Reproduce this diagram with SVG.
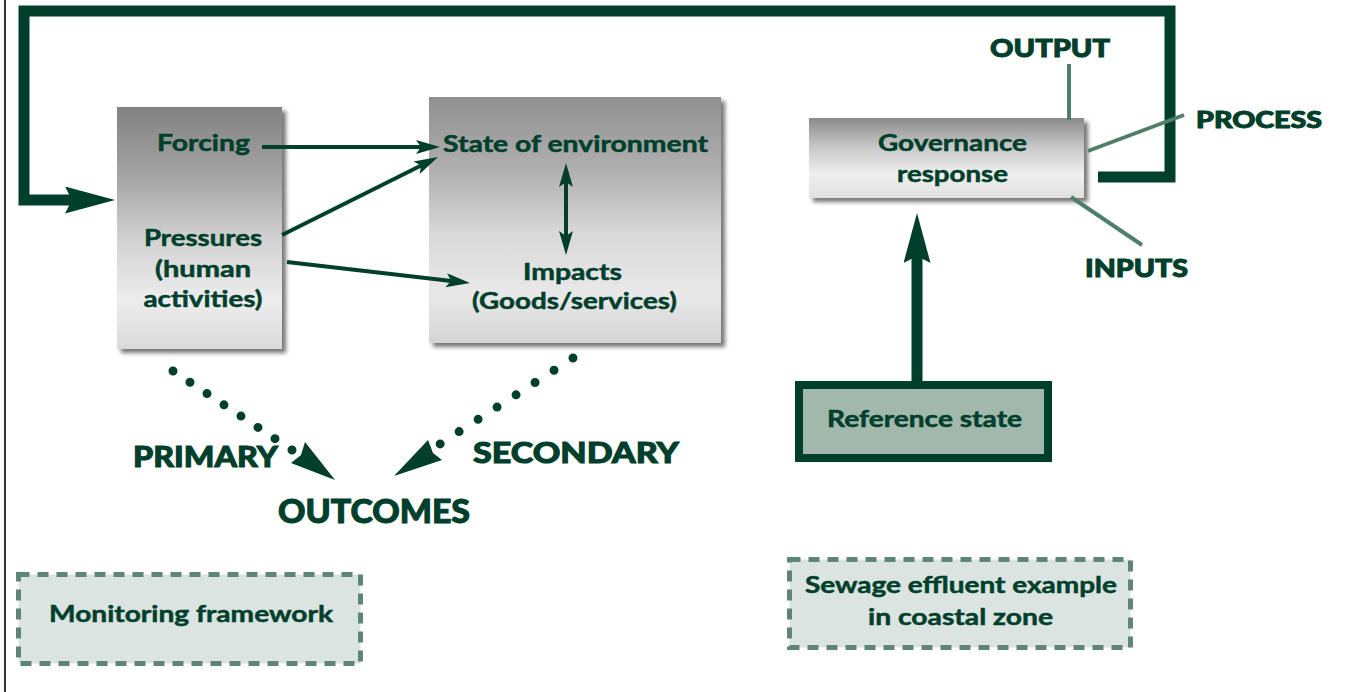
<svg xmlns="http://www.w3.org/2000/svg" width="1356" height="692" viewBox="0 0 1356 692">
<defs>
<style>
.t{font-family:Lato,"Liberation Sans",Arial,sans-serif;font-weight:700;fill:#003f2c;stroke:#003f2c;stroke-width:0.5;text-anchor:middle}
.cap{font-family:Lato,"Liberation Sans",Arial,sans-serif;font-weight:900;fill:#003f2c;stroke:#003f2c;stroke-width:1;text-anchor:middle}
.thin{stroke:#003f2c;stroke-width:4;fill:none}
.thick{stroke:#003f2c;stroke-width:11;fill:none;stroke-linejoin:miter}
.lead{stroke:#4f7f6b;stroke-width:4;fill:none}
.dots{stroke:#003f2c;stroke-width:9;stroke-linecap:round;fill:none}
.dash{fill:#dbe4e0;stroke:#5e8575;stroke-width:5;stroke-dasharray:11 8}
.head{fill:#003f2c}
</style>
<marker id="ah" markerUnits="userSpaceOnUse" markerWidth="26" markerHeight="16" refX="14" refY="7" orient="auto-start-reverse" viewBox="0 0 26 16">
<path d="M0,0 L24,7 L0,14 L5,7 z" fill="#003f2c"/>
</marker>
<marker id="big" markerUnits="userSpaceOnUse" markerWidth="52" markerHeight="28" refX="7" refY="13.5" orient="auto" viewBox="0 0 52 28">
<path d="M0,0 L50,13.5 L0,27 L7,13.5 z" fill="#003f2c"/>
</marker>
<linearGradient id="g1" x1="0" y1="0" x2="0" y2="1">
<stop offset="0" stop-color="#828282"/>
<stop offset="0.3" stop-color="#a6a6a6"/>
<stop offset="0.55" stop-color="#d2d2d2"/>
<stop offset="0.8" stop-color="#ededed"/>
<stop offset="1" stop-color="#dadada"/>
</linearGradient>
<linearGradient id="g2" x1="0" y1="0" x2="0" y2="1">
<stop offset="0" stop-color="#909090"/>
<stop offset="0.3" stop-color="#b0b0b0"/>
<stop offset="0.55" stop-color="#d8d8d8"/>
<stop offset="0.8" stop-color="#e9e9e9"/>
<stop offset="1" stop-color="#d4d4d4"/>
</linearGradient>
<linearGradient id="g3" x1="0" y1="0" x2="0" y2="1">
<stop offset="0" stop-color="#8a8a8a"/>
<stop offset="0.35" stop-color="#c6c6c6"/>
<stop offset="0.7" stop-color="#efefef"/>
<stop offset="1" stop-color="#e0e0e0"/>
</linearGradient>
<filter id="sh" x="-10%" y="-10%" width="130%" height="130%">
<feDropShadow dx="4" dy="4" stdDeviation="2" flood-color="#555" flood-opacity="0.8"/>
</filter>
</defs>
<rect width="1356" height="692" fill="#fff"/>
<line x1="5" y1="0" x2="5" y2="692" stroke="#333" stroke-width="2"/>

<g id="n-pressures">
<rect x="117" y="107" width="165" height="242" fill="url(#g1)" filter="url(#sh)"/>
<text class="t" x="203.5" y="151" font-size="23" textLength="93" lengthAdjust="spacingAndGlyphs">Forcing</text>
<text class="t" x="203" y="246" font-size="23" textLength="118" lengthAdjust="spacingAndGlyphs">Pressures</text>
<text class="t" x="203" y="277" font-size="23" textLength="96" lengthAdjust="spacingAndGlyphs">(human</text>
<text class="t" x="203" y="307" font-size="23" textLength="119" lengthAdjust="spacingAndGlyphs">activities)</text>
</g>

<g id="n-state">
<rect x="429" y="97" width="292" height="246" fill="url(#g2)" filter="url(#sh)"/>
<text class="t" x="575.5" y="152" font-size="23" textLength="265" lengthAdjust="spacingAndGlyphs">State of environment</text>
<text class="t" x="572.5" y="280" font-size="23" textLength="99" lengthAdjust="spacingAndGlyphs">Impacts</text>
<text class="t" x="574.5" y="309" font-size="23" textLength="205" lengthAdjust="spacingAndGlyphs">(Goods/services)</text>
</g>

<g id="n-governance">
<rect x="809" y="118" width="275" height="80" fill="url(#g3)" filter="url(#sh)"/>
<text class="t" x="952.5" y="151" font-size="23" textLength="149" lengthAdjust="spacingAndGlyphs">Governance</text>
<text class="t" x="952.5" y="182" font-size="23" textLength="111" lengthAdjust="spacingAndGlyphs">response</text>
</g>

<g id="n-labels">
<text class="cap" x="1050" y="57" font-size="25" textLength="120" lengthAdjust="spacingAndGlyphs">OUTPUT</text>
<text class="cap" x="1259" y="128" font-size="23" textLength="126" lengthAdjust="spacingAndGlyphs">PROCESS</text>
<text class="cap" x="1136.5" y="277" font-size="24" textLength="103" lengthAdjust="spacingAndGlyphs">INPUTS</text>
<text class="cap" x="205.5" y="467" font-size="29" textLength="145" lengthAdjust="spacingAndGlyphs">PRIMARY</text>
<text class="cap" x="576" y="463" font-size="29" textLength="206" lengthAdjust="spacingAndGlyphs">SECONDARY</text>
<text class="cap" x="374" y="523" font-size="32" textLength="192" lengthAdjust="spacingAndGlyphs">OUTCOMES</text>
</g>

<g id="n-reference">
<rect x="799" y="385" width="249" height="73" fill="#a2b8ad" stroke="#003f2c" stroke-width="8"/>
<text class="t" x="924.5" y="427" font-size="23" textLength="195" lengthAdjust="spacingAndGlyphs">Reference state</text>
</g>

<g id="n-monitoring">
<rect class="dash" x="18.5" y="574.5" width="342" height="89"/>
<text class="t" x="191" y="622" font-size="23" textLength="284" lengthAdjust="spacingAndGlyphs">Monitoring framework</text>
</g>

<g id="n-sewage">
<rect class="dash" x="789.5" y="559.5" width="341" height="88"/>
<text class="t" x="961" y="593" font-size="23" textLength="312" lengthAdjust="spacingAndGlyphs">Sewage effluent example</text>
<text class="t" x="960.5" y="625" font-size="23" textLength="185" lengthAdjust="spacingAndGlyphs">in coastal zone</text>
</g>

<g id="connectors">
<path class="thick" d="M1098,177 H1170 V11 H24 V200 H72" marker-end="url(#big)"/>
<line class="thick" x1="917" y1="381" x2="917" y2="256" stroke-width="10" marker-end="url(#big)"/>
<line class="thin" x1="262" y1="147" x2="430" y2="147" marker-end="url(#ah)"/>
<line class="thin" x1="282" y1="235" x2="429.1" y2="161.5" marker-end="url(#ah)"/>
<line class="thin" x1="287" y1="262" x2="460.1" y2="281.9" marker-end="url(#ah)"/>
<line class="thin" x1="566" y1="173" x2="566" y2="245" marker-start="url(#ah)" marker-end="url(#ah)"/>
<line class="lead" x1="1069" y1="64" x2="1069" y2="120"/>
<line class="lead" x1="1088" y1="151" x2="1184" y2="115"/>
<line class="lead" x1="1071" y1="197" x2="1142" y2="245"/>
<path class="dots" d="M173,371 L292.5,450.3" stroke-dasharray="0 20.4"/>
<polygon class="head" points="335,480 291,463 301,455 305,442"/>
<path class="dots" d="M573,358 L439.5,444.3" stroke-dasharray="0 22.6"/>
<polygon class="head" points="394,476 428,440 433,453 442,460"/>
</g>
</svg>
